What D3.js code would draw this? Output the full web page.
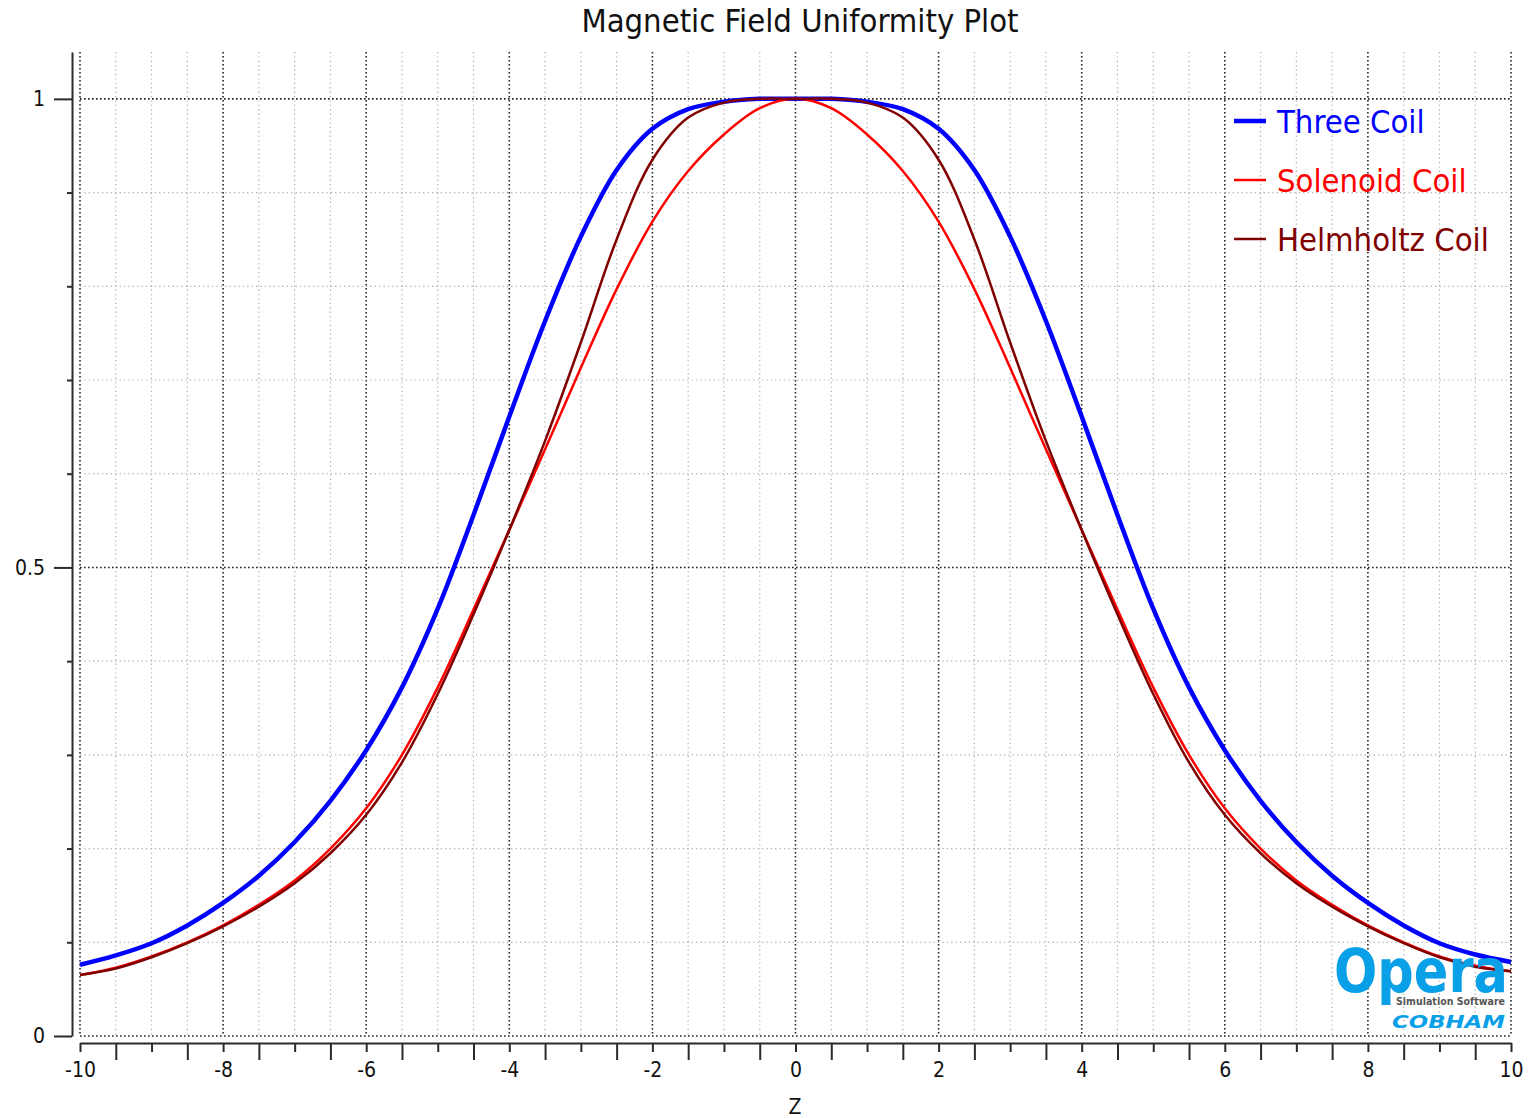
<!DOCTYPE html>
<html>
<head>
<meta charset="utf-8">
<script src="https://cdn.jsdelivr.net/npm/d3@7"></script>
<style>
  body { margin: 0; background: #fff; }
  svg { display: block; font-family: "DejaVu Sans Condensed", "DejaVu Sans", sans-serif; }
</style>
</head>
<body>
<div id="chart"></div>
<script>
// z positions of the samples
var zValues = [-10, -9.5, -9, -8.5, -8, -7.5, -7, -6.5, -6, -5.5, -5, -4.5, -4, -3.5, -3, -2.5, -2, -1.5, -1, -0.5,
  0, 0.5, 1, 1.5, 2, 2.5, 3, 3.5, 4, 4.5, 5, 5.5, 6, 6.5, 7, 7.5, 8, 8.5, 9, 9.5, 10]

// field values
var threeCoil = [0.076, 0.086, 0.099, 0.118, 0.142, 0.171, 0.207, 0.251, 0.305, 0.372, 0.456, 0.556, 0.661, 0.763, 0.853, 0.924, 0.968, 0.989, 0.997, 1.0,
  1.0, 1.0, 0.997, 0.989, 0.968, 0.924, 0.853, 0.763, 0.661, 0.556, 0.456, 0.372, 0.305, 0.251, 0.207, 0.171, 0.142, 0.118, 0.099, 0.087, 0.079]
var solenoidCoil = [0.065, 0.073, 0.085, 0.100, 0.118, 0.140, 0.166, 0.200, 0.243, 0.300, 0.372, 0.455, 0.540, 0.626, 0.713, 0.797, 0.869, 0.923, 0.962, 0.990,
  1.0, 0.990, 0.962, 0.923, 0.869, 0.797, 0.713, 0.626, 0.540, 0.455, 0.372, 0.300, 0.243, 0.200, 0.166, 0.140, 0.118, 0.100, 0.085, 0.075, 0.069]
var helmholtzCoil = [0.065, 0.072, 0.084, 0.099, 0.117, 0.138, 0.163, 0.195, 0.236, 0.292, 0.365, 0.450, 0.540, 0.635, 0.740, 0.850, 0.935, 0.980, 0.996, 1.0,
  1.0, 1.0, 0.996, 0.980, 0.935, 0.850, 0.740, 0.635, 0.540, 0.450, 0.365, 0.292, 0.236, 0.195, 0.163, 0.138, 0.117, 0.099, 0.084, 0.074, 0.069]

var seriesNames = ["Three Coil", "Solenoid Coil", "Helmholtz Coil"]
var seriesColors = ["#0000ff", "#ff0000", "#800000"]
var seriesWidths = [4.5, 2.5, 2.5]
var seriesValues = [threeCoil, solenoidCoil, helmholtzCoil]

var yMajor = [0, 0.5, 1]
var yMinor = [0.1, 0.2, 0.3, 0.4, 0.6, 0.7, 0.8, 0.9]
var xLabelled = [-10, -8, -6, -4, -2, 0, 2, 4, 6, 8, 10]

var width = 1528, height = 1118

var x = d3.scaleLinear().domain([-10, 10]).range([80, 1511])
var y = d3.scaleLinear().domain([0, 1.05]).range([1036, 52])

var svg = d3.select("#chart").append("svg")
  .attr("width", width)
  .attr("height", height)

svg.append("rect").attr("width", width).attr("height", height).attr("fill", "#fff")

// title
svg.append("text")
  .attr("x", 800)
  .attr("y", 32)
  .attr("text-anchor", "middle")
  .attr("font-size", 32.5)
  .attr("fill", "#111")
  .text("Magnetic Field Uniformity Plot")

// grid
var grid = svg.append("g")
var xGridAll = d3.range(-20, 21).map(function(d) { return d / 2 })
grid.selectAll(".vgrid").data(xGridAll).enter().append("line")
  .attr("x1", function(d) { return x(d) }).attr("x2", function(d) { return x(d) })
  .attr("y1", y(1.05)).attr("y2", y(0))
  .attr("stroke", function(d) { return d % 2 == 0 ? "#222" : "#aaa" })
  .attr("stroke-width", function(d) { return d % 2 == 0 ? 1.6 : 1.2 })
  .attr("stroke-dasharray", function(d) { return d % 2 == 0 ? "1.6,2.4" : "1.2,3.2" })

grid.selectAll(".hgrid").data(yMajor.concat(yMinor)).enter().append("line")
  .attr("x1", x(-10)).attr("x2", x(10))
  .attr("y1", function(d) { return y(d) }).attr("y2", function(d) { return y(d) })
  .attr("stroke", function(d) { return yMajor.indexOf(d) >= 0 ? "#222" : "#aaa" })
  .attr("stroke-width", function(d) { return yMajor.indexOf(d) >= 0 ? 1.6 : 1.2 })
  .attr("stroke-dasharray", function(d) { return yMajor.indexOf(d) >= 0 ? "1.6,2.4" : "1.2,3.2" })

// y axis
var yAxis = svg.append("g")
  .attr("transform", "translate(72,0)")
  .call(d3.axisLeft(y).tickValues(yMajor).tickSize(18).tickSizeOuter(0).tickPadding(9)
    .tickFormat(function(d) { return String(d) }))
svg.append("g")
  .attr("transform", "translate(72,0)")
  .call(d3.axisLeft(y).tickValues(yMinor).tickSize(5).tickFormat(""))
  .call(function(g) { g.select(".domain").remove() })

// x axis
var xAxis = svg.append("g")
  .attr("transform", "translate(0,1043)")
  .call(d3.axisBottom(x).tickValues(d3.range(-10, 11)).tickSize(9).tickSizeOuter(0).tickPadding(10)
    .tickFormat(function(d) { return xLabelled.indexOf(d) >= 0 ? String(d) : "" }))
svg.append("g")
  .attr("transform", "translate(0,1043)")
  .call(d3.axisBottom(x).tickValues(d3.range(-19, 20, 2).map(function(d) { return d / 2 })).tickSize(17).tickFormat(""))
  .call(function(g) { g.select(".domain").remove() })

svg.selectAll(".domain, .tick line").attr("stroke", "#2a2a2a").attr("stroke-width", 2)
svg.selectAll(".tick text").attr("font-size", 21).attr("fill", "#111")
  .attr("font-family", "'DejaVu Sans Condensed', 'DejaVu Sans', sans-serif")

// axis title
svg.append("text")
  .attr("x", 795)
  .attr("y", 1114)
  .attr("text-anchor", "middle")
  .attr("font-size", 21)
  .attr("fill", "#111")
  .text("Z")

// curves
var line = d3.line()
  .x(function(d, i) { return x(zValues[i]) })
  .y(function(d) { return y(d) })
  .curve(d3.curveCatmullRom.alpha(0.5))

var plot = svg.append("g")
seriesValues.forEach(function(vals, k) {
  plot.append("path")
    .attr("d", line(vals))
    .attr("fill", "none")
    .attr("stroke", seriesColors[k])
    .attr("stroke-width", seriesWidths[k])
    .attr("stroke-linejoin", "round")
})

// legend
var legend = svg.append("g")
seriesNames.forEach(function(name, k) {
  var ly = 121 + k * 59
  legend.append("line")
    .attr("x1", 1234).attr("x2", 1266)
    .attr("y1", ly).attr("y2", ly)
    .attr("stroke", seriesColors[k])
    .attr("stroke-width", k == 0 ? 4.5 : 2.5)
  legend.append("text")
    .attr("x", 1277)
    .attr("y", ly + 12)
    .attr("font-size", 32.5)
    .attr("fill", seriesColors[k])
    .text(name)
})

// Opera logo
var logo = svg.append("g")
logo.append("text")
  .attr("x", 1334).attr("y", 992)
  .attr("font-size", 60).attr("font-weight", "bold")
  .attr("fill", "#0aa0e8")
  .attr("textLength", 174).attr("lengthAdjust", "spacingAndGlyphs")
  .text("Opera")
logo.append("text")
  .attr("x", 1396).attr("y", 1005)
  .attr("font-size", 10.5).attr("font-weight", "bold")
  .attr("fill", "#555")
  .attr("textLength", 109)
  .text("Simulation Software")
logo.append("text")
  .attr("x", 1392).attr("y", 1028)
  .attr("font-size", 17).attr("font-weight", "bold").attr("font-style", "italic")
  .attr("fill", "#0aa0e8")
  .attr("textLength", 113).attr("lengthAdjust", "spacingAndGlyphs")
  .text("COBHAM")
</script>
</body>
</html>
